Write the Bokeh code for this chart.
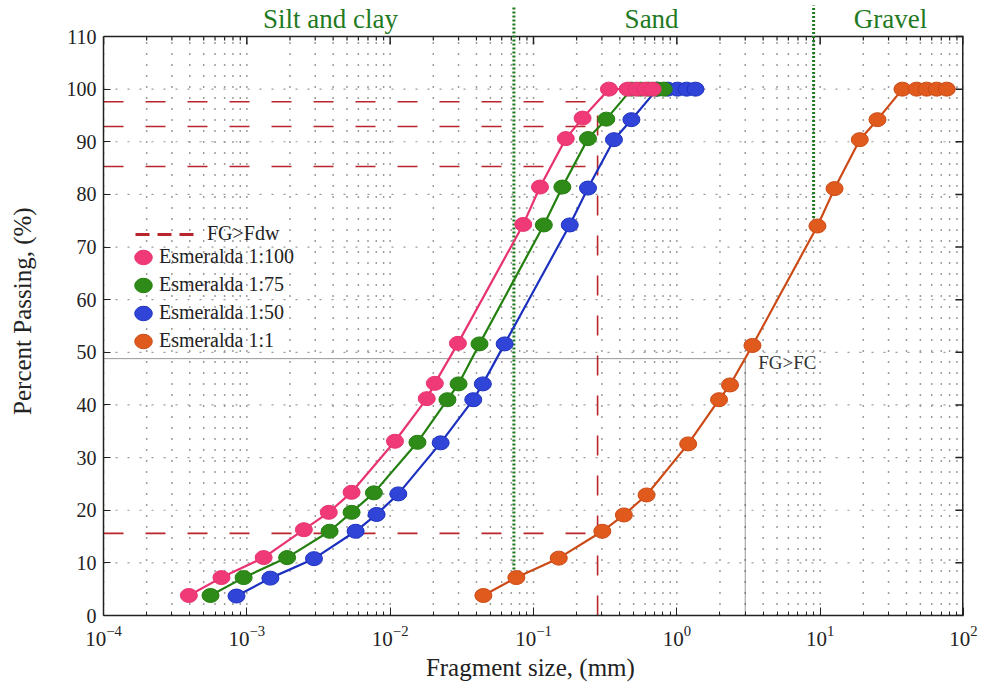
from bokeh.plotting import figure
from bokeh.models import FixedTicker, Legend, LegendItem, Label, ColumnDataSource, Range1d
from bokeh.core.properties import value
from bokeh.embed import file_html
from bokeh.resources import INLINE

# ---------------- data ----------------
x_min, x_max = 1e-4, 1e2
y_min, y_max = 0, 110
decades = [1e-4, 1e-3, 1e-2, 1e-1, 1e0, 1e1, 1e2]
minor_mult = [2, 3, 4, 5, 6, 7, 8, 9]
y_ticks = [0, 10, 20, 30, 40, 50, 60, 70, 80, 90, 100, 110]

pink_x = [3.94e-4, 6.65e-4, 1.31e-3, 2.50e-3, 3.73e-3, 5.38e-3, 1.08e-2, 1.80e-2, 2.05e-2,
          2.97e-2, 8.48e-2, 0.111, 0.168, 0.220, 0.336, 0.454, 0.524, 0.605, 0.678]
pink_y = [3.8, 7.2, 11.0, 16.3, 19.6, 23.4, 33.1, 41.2, 44.1, 51.7, 74.3, 81.4, 90.6, 94.5,
          100, 100, 100, 100, 100]

green_x = [5.58e-4, 9.5e-4, 1.91e-3, 3.78e-3, 5.38e-3, 7.7e-3, 1.55e-2, 2.51e-2, 3.0e-2,
           4.2e-2, 0.118, 0.159, 0.240, 0.322, 0.484, 0.559, 0.635, 0.722, 0.81]
green_y = [3.8, 7.2, 11.0, 16.0, 19.6, 23.3, 32.9, 41.0, 44.0, 51.6, 74.2, 81.4, 90.6, 94.3,
           100, 100, 100, 100, 100]

blue_x = [8.47e-4, 1.46e-3, 2.94e-3, 5.74e-3, 8.04e-3, 1.14e-2, 2.25e-2, 3.80e-2, 4.43e-2,
          6.29e-2, 0.179, 0.240, 0.364, 0.482, 0.73, 0.863, 1.01, 1.17, 1.35]
blue_y = [3.7, 7.1, 10.8, 16.0, 19.2, 23.1, 32.8, 41.0, 44.0, 51.6, 74.2, 81.2, 90.4, 94.2,
          100, 100, 100, 100, 100]

orange_x = [0.0447, 0.0759, 0.150, 0.302, 0.427, 0.615, 1.20, 1.97, 2.35, 3.37, 9.57, 12.6,
            18.9, 25.1, 37.5, 47.1, 55.3, 65.0, 76.4]
orange_y = [3.8, 7.2, 10.9, 16.0, 19.1, 22.9, 32.6, 41.0, 43.8, 51.3, 74.0, 81.1, 90.4, 94.2,
            100, 100, 100, 100, 100]

series_names = ["Esmeralda 1:100", "Esmeralda 1:75", "Esmeralda 1:50", "Esmeralda 1:1"]

# reference lines
fdw_levels = [97.6, 92.9, 85.3, 15.6]
fdw_size = 0.28
fc_size = 3.0
fc_pass = 48.8
zone_bounds = [0.073, 9.0]
zone_bound_bottom = [7.2, 74.0]
zone_names = ["Silt and clay", "Sand", "Gravel"]
zone_label_x = [3.84e-3, 0.667, 31.0]

# ---------------- styles ----------------
SERIF = "Liberation Serif"
ZONE_GREEN = "#1f7a1f"
RED = "#b8252b"
INK = "#222222"
colors = {
    "pink": ("#e8336f", "#f03a78"),
    "green": ("#23800f", "#2e8b17"),
    "blue": ("#1c30c0", "#3045d8"),
    "orange": ("#cc4a16", "#df5a1c"),
}

W, H = 981, 689
BL, BR, BB = 103, 18, 74
HEAD = 36                      # pixels above the 110 line holding the zone names
box_h = H - BB - HEAD          # pixel height of the 0..110 box
px_per_unit = box_h / (y_max - y_min)
y_top = y_max + HEAD / px_per_unit
zone_label_y = y_max + (HEAD / 2) / px_per_unit
zone_line_top = y_max + (HEAD - 5) / px_per_unit

p = figure(width=W, height=H, x_axis_type="log",
           x_range=Range1d(x_min, x_max), y_range=Range1d(y_min, y_top),
           output_backend="svg", toolbar_location=None,
           min_border_left=BL, min_border_right=BR, min_border_top=0, min_border_bottom=BB)
p.background_fill_color = "white"
p.border_fill_color = "white"
p.outline_line_color = None
p.grid.visible = False

minor_ticks = [m * d for d in decades[:-1] for m in minor_mult]
xticker = FixedTicker(ticks=decades, minor_ticks=minor_ticks)
yticker = FixedTicker(ticks=y_ticks, minor_ticks=[])

# bottom axis
xa = p.xaxis[0]
xa.ticker = xticker
xa.axis_label = "Fragment size,  (mm)"
xa.axis_label_text_font = SERIF
xa.axis_label_text_font_size = "25px"
xa.axis_label_text_font_style = "normal"
xa.axis_label_text_color = INK
xa.axis_label_standoff = 5
xa.major_label_text_font = SERIF
xa.major_label_text_font_size = "21px"
xa.major_label_text_color = INK
xa.major_label_standoff = 10
xa.major_tick_in = 8
xa.major_tick_out = 0
xa.minor_tick_in = 4
xa.minor_tick_out = 0
xa.axis_line_width = 1.5
xa.axis_line_color = INK
xa.major_tick_line_color = INK
xa.minor_tick_line_color = INK

# left axis (limited to 0..110)
ya = p.yaxis[0]
ya.ticker = yticker
ya.bounds = (y_min, y_max)
ya.axis_label = "Percent Passing,  (%)"
ya.axis_label_text_font = SERIF
ya.axis_label_text_font_size = "25px"
ya.axis_label_text_font_style = "normal"
ya.axis_label_text_color = INK
ya.axis_label_standoff = 28
ya.major_label_text_font = SERIF
ya.major_label_text_font_size = "20px"
ya.major_label_text_color = INK
ya.major_label_standoff = 7
ya.major_tick_in = 7
ya.major_tick_out = 0
ya.axis_line_width = 1.5
ya.axis_line_color = INK
ya.major_tick_line_color = INK

# grid lines (kept inside the 0..110 box)
p.segment(x0=decades + minor_ticks, y0=[y_min] * (len(decades) + len(minor_ticks)),
          x1=decades + minor_ticks, y1=[y_max] * (len(decades) + len(minor_ticks)),
          line_color="#3a3a3a", line_width=1.5, line_dash="1 10")
p.segment(x0=[x_min] * len(y_ticks), y0=y_ticks, x1=[x_max] * len(y_ticks), y1=y_ticks,
          line_color="#9a9a9a", line_width=1.2, line_dash="2 10")

# box: top and right edges
p.segment(x0=[x_min], y0=[y_max], x1=[x_max], y1=[y_max], line_color=INK, line_width=1.5)
p.segment(x0=[x_max], y0=[y_min], x1=[x_max], y1=[y_max], line_color=INK, line_width=3)

# inward ticks on top and right edges (lengths in pixels converted to data units)
frame_w = W - BL - BR
dec_per_px = 6.0 / frame_w
p.segment(x0=decades, y0=[y_max] * len(decades), x1=decades,
          y1=[y_max - 8 / px_per_unit] * len(decades), line_color=INK, line_width=1.5)
p.segment(x0=minor_ticks, y0=[y_max] * len(minor_ticks), x1=minor_ticks,
          y1=[y_max - 4 / px_per_unit] * len(minor_ticks), line_color=INK, line_width=1.2)
p.segment(x0=[x_max] * len(y_ticks), y0=y_ticks,
          x1=[x_max * 10 ** (-8 * dec_per_px)] * len(y_ticks), y1=y_ticks,
          line_color=INK, line_width=1.5)

# FG>Fdw red dashed lines
fdw_src = ColumnDataSource(dict(x0=[x_min] * len(fdw_levels), y0=fdw_levels,
                                x1=[fdw_size] * len(fdw_levels), y1=fdw_levels))
p.segment("x0", "y0", "x1", "y1", source=fdw_src, line_color=RED, line_width=1.6,
          line_dash="20 22")
p.segment(x0=[fdw_size], y0=[y_min], x1=[fdw_size], y1=[max(fdw_levels)],
          line_color=RED, line_width=1.6, line_dash="20 20")

# FG>FC black dotted lines
p.segment(x0=[x_min], y0=[fc_pass], x1=[fc_size], y1=[fc_pass],
          line_color="#333333", line_width=1, line_dash="1 1")
p.segment(x0=[fc_size], y0=[y_min], x1=[fc_size], y1=[fc_pass],
          line_color="#333333", line_width=1, line_dash="1 1")
p.add_layout(Label(x=fc_size, y=fc_pass, x_offset=13, y_offset=-4, text="FG>FC",
                   text_baseline="middle", text_align="left", text_font=SERIF,
                   text_font_size="19px", text_color="#333333"))

# zone boundaries and zone names
p.segment(x0=zone_bounds, y0=zone_bound_bottom, x1=zone_bounds,
          y1=[zone_line_top] * len(zone_bounds),
          line_color=ZONE_GREEN, line_width=3, line_dash="2 2")
p.text(x=zone_label_x, y=[zone_label_y] * len(zone_names), text=zone_names,
       text_align="center", text_baseline="middle", text_font=value(SERIF),
       text_font_size="27px", text_color=ZONE_GREEN)

# series
markers = {}
order = [("orange", orange_x, orange_y), ("blue", blue_x, blue_y),
         ("green", green_x, green_y), ("pink", pink_x, pink_y)]
for key, xs, ys in order:
    lc, fc = colors[key]
    src = ColumnDataSource(dict(x=xs, y=ys))
    p.line("x", "y", source=src, line_color=lc, line_width=2.2)
    markers[key] = p.ellipse("x", "y", source=src, width=17, height=14,
                             width_units="screen", height_units="screen",
                             fill_color=fc, line_color=lc, line_width=1)

# legends
fdw_legend_src = ColumnDataSource(dict(x=[float("nan")], y=[float("nan")]))
fdw_legend_r = p.line("x", "y", source=fdw_legend_src, line_color=RED, line_width=3,
                      line_dash="14 8")
leg1 = Legend(items=[LegendItem(label="FG>Fdw", renderers=[fdw_legend_r])],
              location=(32, 370), glyph_width=65, glyph_height=20, label_height=20,
              padding=0, margin=0, label_standoff=7, border_line_color=None,
              background_fill_alpha=0, label_text_font=SERIF, label_text_font_size="20px",
              label_text_color=INK)
p.add_layout(leg1)
leg2 = Legend(items=[LegendItem(label=series_names[0], renderers=[markers["pink"]]),
                     LegendItem(label=series_names[1], renderers=[markers["green"]]),
                     LegendItem(label=series_names[2], renderers=[markers["blue"]]),
                     LegendItem(label=series_names[3], renderers=[markers["orange"]])],
              location=(29, 263), glyph_width=22, glyph_height=22, label_height=22,
              spacing=5, padding=0, margin=0, label_standoff=5, border_line_color=None,
              background_fill_alpha=0, label_text_font=SERIF, label_text_font_size="20px",
              label_text_color=INK)
p.add_layout(leg2)

open("out.html", "w").write(file_html(p, INLINE))
